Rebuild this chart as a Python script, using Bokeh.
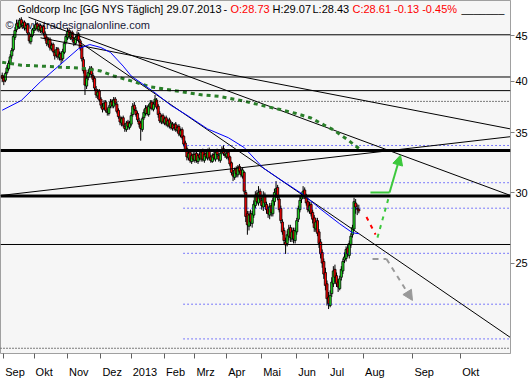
import math
from bokeh.plotting import figure
from bokeh.models import (Range1d, FixedTicker, Span, Label, Arrow, NormalHead,
                          ColumnDataSource, PrintfTickFormatter)
from bokeh.embed import file_html
from bokeh.resources import INLINE

# ---------------- data (daily candles, 31.08.2012 .. 29.07.2013) ----------------
opens = [40.6,40.4,40.1,40.9,41.3,41.9,42.7,43.4,44.8,45.7,
         46.5,46.0,46.9,46.2,46.6,45.8,46.3,45.2,44.3,45.0,
         45.6,45.8,46.4,45.7,46.2,45.5,46.1,45.2,44.8,44.0,
         44.6,43.5,44.0,43.1,42.8,43.5,42.5,43.0,42.4,43.1,
         44.2,44.8,45.6,44.8,45.4,44.5,44.1,44.9,45.2,44.4,
         43.7,42.3,41.2,39.5,40.4,40.8,41.4,40.6,40.3,39.2,
         38.5,39.0,38.2,37.5,37.3,37.9,37.0,36.8,37.5,38.0,
         37.5,38.2,37.7,37.1,36.4,35.9,36.4,35.6,35.3,36.0,
         35.5,35.8,36.7,37.6,37.1,36.8,36.1,35.9,35.3,36.4,
         36.8,37.4,36.7,37.4,37.9,37.2,37.8,38.1,37.5,36.8,
         36.0,36.6,35.9,36.4,35.7,36.2,35.5,35.8,35.5,35.8,
         35.2,35.6,34.8,35.3,34.7,34.1,33.6,32.8,33.3,32.5,
         33.1,32.6,33.2,32.5,33.1,32.7,33.4,32.6,33.2,32.8,
         33.5,32.9,32.5,33.1,32.7,33.4,33.0,32.6,33.3,33.6,
         33.1,32.9,33.3,32.9,32.4,31.5,31.2,31.9,31.4,32.1,
         31.8,31.3,31.6,30.0,28.4,27.5,28.4,27.7,28.3,29.0,
         29.9,29.2,30.1,29.4,28.9,29.8,29.1,28.8,28.3,29.0,
         28.4,29.3,30.1,30.4,29.5,28.8,27.8,27.2,26.4,26.3,
         26.8,27.4,26.6,27.2,26.5,27.1,28.0,28.7,29.5,29.7,
         30.2,29.6,29.3,28.6,29.1,28.5,28.1,27.3,27.9,27.1,
         26.4,25.7,25.1,24.4,23.7,22.9,22.4,23.1,23.7,24.6,
         24.2,23.8,23.4,24.1,24.5,25.2,25.3,26.0,25.5,26.2,
         26.9,27.3,29.2,28.8,28.73]
highs = [40.9,40.6,41.0,41.7,42.2,42.9,43.6,45.2,46.0,46.9,
         46.9,47.1,47.2,46.8,46.8,46.5,46.5,45.4,45.2,45.9,
         46.2,46.8,46.6,46.4,46.4,46.3,46.3,45.5,45.0,44.8,
         44.8,44.2,44.2,43.4,43.7,43.7,43.2,43.2,43.5,44.4,
         45.2,45.9,45.8,45.6,45.6,44.8,45.0,45.5,45.4,44.6,
         43.9,42.6,41.4,40.6,41.2,41.6,41.6,40.9,40.5,39.5,
         39.2,39.2,38.4,37.8,38.1,38.1,37.3,37.6,38.2,38.2,
         38.4,38.4,37.9,37.3,36.6,36.5,36.6,35.9,36.1,36.2,
         36.1,36.9,37.8,37.9,37.4,37.0,36.4,36.1,36.5,37.2,
         37.6,37.6,37.7,38.1,38.1,37.9,38.6,38.3,37.7,37.0,
         36.7,36.8,36.5,36.6,36.3,36.4,36.1,36.0,35.9,36.0,
         35.7,35.8,35.4,35.5,34.8,34.3,33.8,33.5,33.5,33.2,
         33.3,33.3,33.4,33.2,33.3,33.5,33.6,33.3,33.4,33.6,
         33.7,33.1,33.2,33.3,33.5,33.6,33.2,33.4,33.8,33.9,
         33.4,33.5,33.5,33.0,32.5,31.8,32.0,32.1,32.2,32.3,
         32.0,32.0,31.7,30.2,28.6,28.6,28.7,28.6,29.4,30.1,
         30.2,30.5,30.3,29.6,30.1,30.0,29.3,29.0,29.2,29.2,
         29.6,30.3,30.9,30.6,29.7,29.0,28.0,27.4,26.7,27.2,
         27.6,27.6,27.4,27.4,27.4,28.1,29.0,29.7,30.0,30.5,
         30.4,29.9,29.5,29.3,29.3,28.7,28.3,28.1,28.1,27.3,
         26.6,25.9,25.3,24.7,23.9,23.2,23.3,24.1,24.8,24.9,
         24.4,24.0,24.2,24.8,25.3,25.7,26.1,26.2,26.5,27.0,
         27.6,29.6,29.5,29.1,29.07]
lows = [39.9,39.6,39.9,40.7,41.1,41.7,42.4,43.2,44.5,45.4,
        45.8,45.8,46.0,45.9,45.6,45.5,45.1,44.1,44.0,44.8,
        45.3,45.6,45.5,45.4,45.3,45.2,45.0,44.4,43.8,43.7,
        43.3,43.3,43.0,42.3,42.5,42.3,42.2,41.8,42.1,42.9,
        44.0,44.5,44.6,44.5,44.3,43.8,43.9,44.6,44.2,43.3,
        42.1,40.8,38.6,39.2,40.1,40.5,40.4,39.9,39.0,38.3,
        38.2,37.9,37.3,36.9,37.1,36.9,36.6,36.6,37.3,37.3,
        37.3,37.6,36.8,36.3,35.7,35.6,35.5,35.1,35.1,35.3,
        35.3,35.6,36.5,37.0,36.5,36.0,35.5,34.3,35.1,36.2,
        36.6,36.6,36.5,37.2,37.1,37.0,37.6,37.2,36.4,35.9,
        35.8,35.8,35.7,35.6,35.5,35.4,35.3,35.2,35.2,35.1,
        35.0,34.7,34.6,34.4,33.8,33.3,32.6,32.6,32.4,32.3,
        32.5,32.4,32.4,32.3,32.6,32.5,32.5,32.4,32.7,32.6,
        32.6,32.4,32.4,32.6,32.5,32.9,32.5,32.4,33.1,33.0,
        32.8,32.7,32.6,32.1,31.4,30.9,31.0,31.2,31.2,31.5,
        31.2,31.1,29.9,27.8,26.9,27.2,27.5,27.4,28.1,28.8,
        29.1,29.0,29.3,28.7,28.6,28.9,28.4,28.1,28.0,28.2,
        28.2,29.0,29.8,29.4,28.5,27.7,26.9,26.2,25.6,26.1,
        26.5,26.4,26.4,26.3,26.3,26.9,27.8,28.5,29.2,29.5,
        29.5,29.0,28.5,28.4,28.2,27.7,27.1,27.1,26.8,26.0,
        25.3,24.7,24.0,23.3,22.4,22.2,22.3,22.9,23.5,23.8,
        23.5,23.2,23.3,23.9,24.3,25.0,25.1,25.4,25.3,26.0,
        26.7,27.2,28.4,28.3,28.43]
closes = [40.3,40.0,40.8,41.4,41.9,42.6,43.3,44.9,45.6,46.4,
          46.1,46.8,46.3,46.5,45.9,46.2,45.3,44.4,44.9,45.7,
          45.9,46.3,45.8,46.1,45.6,46.0,45.3,44.7,44.1,44.5,
          43.6,43.9,43.2,42.7,43.4,42.6,42.9,42.3,43.2,44.1,
          44.9,45.5,44.9,45.3,44.6,44.2,44.8,45.1,44.5,43.6,
          42.4,41.1,39.6,40.3,40.9,41.3,40.7,40.2,39.3,38.6,
          38.9,38.1,37.6,37.2,37.8,37.1,36.9,37.4,37.9,37.6,
          38.1,37.8,37.0,36.5,36.0,36.3,35.7,35.4,35.9,35.6,
          35.9,36.6,37.5,37.2,36.7,36.2,35.8,35.4,36.3,36.9,
          37.3,36.8,37.5,37.8,37.3,37.7,38.2,37.4,36.7,36.1,
          36.5,36.0,36.3,35.8,36.1,35.6,35.9,35.4,35.7,35.3,
          35.5,34.9,35.2,34.6,34.0,33.5,32.9,33.2,32.6,33.0,
          32.7,33.1,32.6,33.0,32.8,33.3,32.7,33.1,32.9,33.4,
          32.8,32.6,33.0,32.8,33.3,33.1,32.7,33.2,33.5,33.2,
          33.0,33.2,32.8,32.3,31.6,31.3,31.8,31.5,32.0,31.7,
          31.4,31.8,30.1,28.2,27.6,28.3,27.8,28.4,29.1,29.8,
          29.3,30.0,29.5,29.0,29.7,29.2,28.7,28.4,28.9,28.5,
          29.4,30.0,30.3,29.6,28.7,27.9,27.1,26.5,26.2,26.9,
          27.3,26.7,27.1,26.6,27.2,27.9,28.8,29.4,29.8,30.1,
          29.7,29.2,28.7,29.0,28.4,28.0,27.4,27.8,27.0,26.3,
          25.6,25.0,24.3,23.6,22.8,22.5,23.0,23.8,24.5,24.1,
          23.7,23.5,24.0,24.6,25.1,25.4,25.9,25.6,26.3,26.8,
          27.4,29.3,28.9,28.74,28.61]

# moving averages (bar index, value)
ma_fast_x = [0, 12, 24, 36, 48, 55, 62, 68, 76, 81, 95, 106, 116, 129, 142, 152,
             164, 175, 189, 200, 212, 220, 224]
ma_fast_y = [37.11, 38.06, 39.94, 41.69, 43.52, 43.98, 43.64, 43.09, 41.59, 40.55,
             38.94, 37.58, 36.64, 35.36, 34.57, 33.70, 31.96, 31.00, 29.85, 28.74,
             27.67, 27.04, 26.97]
ma_slow_x = [0, 12, 25, 37, 50, 62, 70, 81, 93, 112, 124, 137, 150, 163, 174, 184,
             194, 202, 208, 217, 224]
ma_slow_y = [42.01, 41.69, 41.59, 41.48, 41.38, 41.06, 40.55, 40.04, 39.43, 38.94,
             38.64, 38.45, 38.06, 37.58, 37.20, 36.83, 36.37, 35.73, 35.28, 34.39, 33.62]

# x axis: months (trading days up to 29.07., calendar days afterwards)
month_labels = ["Sep", "Okt", "Nov", "Dez", "2013", "Feb", "Mrz", "Apr", "Mai",
                "Jun", "Jul", "Aug", "Sep", "Okt"]
month_ticks = [1, 20, 41, 62, 81, 102, 121, 141, 163, 185, 205, 227, 258, 288]
price_ticks = [25, 30, 35, 40, 45]

# drawn horizontal levels
solid_levels = [45.1, 40.44, 39.04, 26.23]
thick_levels = [33.45, 29.73]
black_dotted_levels = [37.97, 20.06]
blue_dotted_levels = [33.88, 30.77, 28.81, 25.64, 22.48, 20.55]
blue_dotted_start = 113.9

# drawn trend lines
trend_x0 = [24.05, 16.5, 42.9, -1.07]
trend_y0 = [44.75, 47.2, 44.98, 29.77]
trend_x1 = [319.3, 319.3, 319.3, 319.3]
trend_y1 = [35.36, 29.77, 20.62, 34.66]

# scenario projections
bull_x = [231.3, 243.3, 250.2]
bull_y = [30.0, 30.0, 33.05]
red_x = [228.8, 234.5]
red_y = [28.16, 26.91]
green_dash_x = [235.7, 243.3]
green_dash_y = [26.70, 29.85]
bear_x = [232.6, 241.4, 257.7]
bear_y = [25.26, 25.26, 22.70]

# ---------------- figure ----------------
X0, X1 = -1.074, 319.27
Y0, Y1 = 19.79, 49.28
FONT = "Liberation Sans"

p = figure(width=531, height=380, x_range=Range1d(X0, X1), y_range=Range1d(Y0, Y1),
           y_axis_type="log", y_axis_location="right",
           output_backend="svg", toolbar_location=None,
           min_border_left=0, min_border_top=0, min_border_right=21, min_border_bottom=20,
           background_fill_color="#F6F6F6", border_fill_color="white",
           outline_line_color="#A0A0A0")
p.xgrid.visible = False
p.ygrid.visible = False

# screen(px of reference) -> data helpers for text placement
PXB = (510.0) / (X1 - X0)
def sx(px):
    return X0 + px / PXB
def sy(py):
    return math.exp(math.log(Y1) - py / 360.0 * (math.log(Y1) - math.log(Y0)))

# texts
p.add_layout(Label(x=sx(5), y=sy(25), text="\u00a9 www.tradesignalonline.com",
                   text_font=FONT, text_font_size="11px", text_color="#1A1A3A",
                   text_baseline="middle", level="underlay"))

# candles
xs = list(range(len(closes)))
src = ColumnDataSource(dict(
    x=xs, o=opens, h=highs, l=lows, c=closes,
    top=[max(a, b) for a, b in zip(opens, closes)],
    bot=[min(a, b) for a, b in zip(opens, closes)],
    col=["#22DD22" if c >= o else "#FF0000" for o, c in zip(opens, closes)]))
p.segment("x", "h", "x", "l", source=src, line_color="black", line_width=1)
p.vbar(x="x", width=1.35, top="top", bottom="bot", source=src,
       fill_color="col", line_color="black", line_width=0.8)

# horizontal levels
for v in solid_levels:
    p.add_layout(Span(location=v, dimension="width", line_color="black", line_width=1))
for v in thick_levels:
    p.add_layout(Span(location=v, dimension="width", line_color="black", line_width=3))
for v in black_dotted_levels:
    p.add_layout(Span(location=v, dimension="width", line_color="black", line_width=1,
                      line_dash="1 2"))
p.segment(x0=[blue_dotted_start] * len(blue_dotted_levels), y0=blue_dotted_levels,
          x1=[X1] * len(blue_dotted_levels), y1=blue_dotted_levels,
          line_color="#0000FF", line_width=1, line_dash="1 3")

# trend lines
p.segment(trend_x0, trend_y0, trend_x1, trend_y1, line_color="black", line_width=1)

# moving averages
p.line(ma_slow_x, ma_slow_y, line_color="#2A7F2A", line_width=3, line_dash="4 4")
p.line(ma_fast_x, ma_fast_y, line_color="#0000FF", line_width=1)

# projections
GREEN = "#3CC83C"
p.line(bull_x[:2], bull_y[:2], line_color=GREEN, line_width=2)
p.add_layout(Arrow(x_start=bull_x[1], y_start=bull_y[1], x_end=bull_x[2], y_end=bull_y[2],
                   line_color=GREEN, line_width=2,
                   end=NormalHead(size=10, fill_color=GREEN, line_color=GREEN)))
p.line(red_x, red_y, line_color="#FF0000", line_width=2, line_dash="4 5")
p.line(green_dash_x, green_dash_y, line_color=GREEN, line_width=2, line_dash="4 5")
p.line(bear_x[:2], bear_y[:2], line_color="#999999", line_width=2, line_dash="6 5")
p.add_layout(Arrow(x_start=bear_x[1], y_start=bear_y[1], x_end=bear_x[2], y_end=bear_y[2],
                   line_color="#999999", line_width=2, line_dash="5 5",
                   end=NormalHead(size=10, fill_color="#999999", line_color="#999999")))

# title row
title_parts = [("Goldcorp Inc [GG NYS  T\u00e4glich]", 17, "black", "10.5px"),
               ("29.07.2013", 166, "black", "11px"),
               ("-", 223, "black", "11px"),
               ("O:28.73", 230, "#FF0000", "11px"),
               ("H:29.07", 272, "black", "11px"),
               ("L:28.43", 312, "black", "11px"),
               ("C:28.61 -0.13 -0.45%", 352, "#FF0000", "11px"),
               ("_______", 461, "black", "11px")]
for txt, px, col, fs in title_parts:
    p.add_layout(Label(x=sx(px), y=sy(9), text=txt, text_font=FONT, text_font_size=fs,
                       text_color=col, text_baseline="middle"))

# right (price) axis
ya = p.yaxis[0]
ya.ticker = FixedTicker(ticks=price_ticks)
ya.formatter = PrintfTickFormatter(format="%d")
ya.major_tick_in = 0
ya.major_tick_out = 4
ya.minor_tick_line_color = None
ya.axis_line_color = "#A0A0A0"
ya.major_tick_line_color = "#808080"
ya.major_label_standoff = 1
ya.major_label_text_font = FONT
ya.major_label_text_font_size = "11px"
ya.major_label_text_color = "black"

# bottom (time) axis: tick marks as minor ticks, labels left-aligned next to them
label_w = [19.5, 17.2, 19.5, 19.5, 24.5, 18.9, 18.4, 17.1, 17.7, 17.7, 14.0, 19.5, 19.5, 17.2]
label_pos = [round(t + (1.5 + w / 2.0) / PXB, 3) for t, w in zip(month_ticks, label_w)]
xa = p.xaxis[0]
xa.ticker = FixedTicker(ticks=label_pos, minor_ticks=month_ticks)
xa.major_label_overrides = {pos: lab for pos, lab in zip(label_pos, month_labels)}
xa.major_tick_line_color = None
xa.major_tick_in = 0
xa.major_tick_out = 0
xa.minor_tick_in = 0
xa.minor_tick_out = 5
xa.minor_tick_line_color = "#606060"
xa.axis_line_color = None
xa.major_label_standoff = 7
xa.major_label_text_font = FONT
xa.major_label_text_font_size = "11px"
xa.major_label_text_color = "black"

with open("out.html", "w", encoding="utf-8") as f:
    f.write(file_html(p, INLINE))
